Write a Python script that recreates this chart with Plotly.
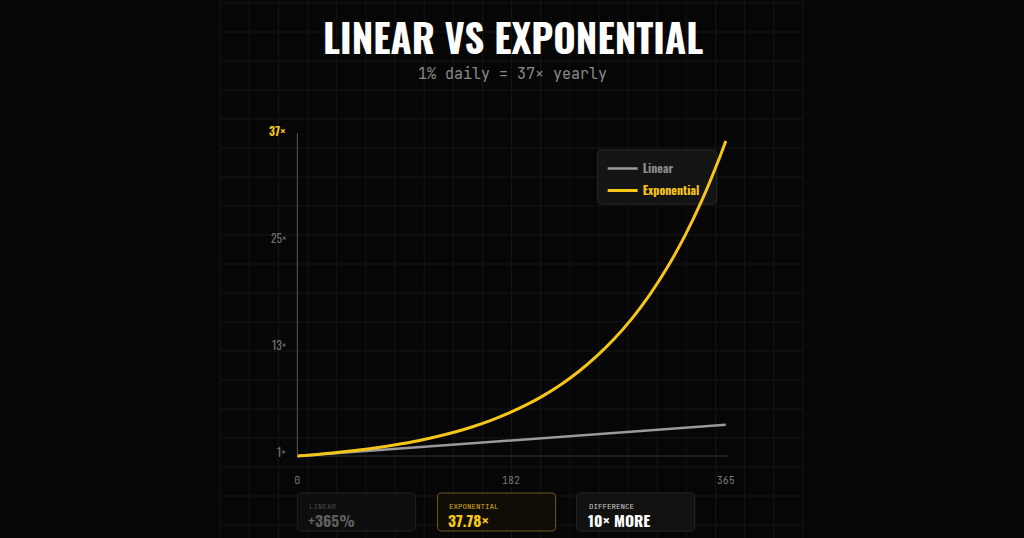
import plotly.graph_objects as go

W, H = 1024, 538

# ---------------- data ----------------
days_exp = [0, 15, 30, 45, 60, 75, 90, 105, 120, 135, 150, 165, 180, 195, 210,
            225, 240, 255, 270, 285, 300, 315, 330, 345, 360, 365]
exp_vals = [1.00, 1.16, 1.35, 1.57, 1.82, 2.11, 2.45, 2.84, 3.30, 3.83, 4.45, 5.16,
            6.00, 6.96, 8.08, 9.38, 10.89, 12.65, 14.68, 17.04, 19.79, 22.97, 26.67,
            30.96, 35.95, 37.78]
days_lin = [0, 365]
lin_vals = [1.00, 4.65]

x_tickvals = [0, 182, 365]
x_ticktext = ["0", "182", "365"]
y_label_text = ["1×", "13×", "25×", "37×"]

summary_labels = ["LINEAR", "EXPONENTIAL", "DIFFERENCE"]
summary_values = ["+365%", "37.78×", "10× MORE"]

title_text = "LINEAR VS EXPONENTIAL"
subtitle_text = "1% daily = 37× yearly"

# ---------------- style ----------------
BG = "#060606"
GRID = "#151515"
YELLOW = "#F5C518"
GRAY_LINE = "#9a9a9a"
COND = "Oswald, 'Liberation Sans Narrow', 'Arial Narrow', 'DejaVu Sans Condensed', sans-serif"
MONO = "'JetBrains Mono', 'DejaVu Sans Mono', 'Liberation Mono', monospace"

KX = 1.006  # small horizontal calibration


def fx(px):
    return px * KX / W


def fy(py):
    return 1 - py / H


# axis pixel mapping
X0_PX, X1_PX = 297, 725          # day 0 and day 365
Y1_PX, YTOP_PX = 456, 141        # value 1 and value 37.78
xppu = (X1_PX - X0_PX) / 365.0
yppu = (Y1_PX - YTOP_PX) / (37.78 - 1.0)
xr = [-3, 368]
yr = [0.4, 38.8]
xdom = [fx(X0_PX + xr[0] * xppu), fx(X0_PX + xr[1] * xppu)]
ydom = [fy(Y1_PX + (1 - yr[0]) * yppu), fy(Y1_PX - (yr[1] - 1) * yppu)]

fig = go.Figure()
fig.add_trace(go.Scatter(
    x=days_lin, y=lin_vals, mode="lines", name="Linear", legendgroup="lin",
    line=dict(color=GRAY_LINE, width=2.5),
))
fig.add_trace(go.Scatter(
    x=days_exp, y=exp_vals, mode="lines", legendgroup="exp",
    name="<span style='color:%s'>Exponential</span>" % YELLOW,
    line=dict(color=YELLOW, width=3, shape="spline", smoothing=0.6),
))

shapes = []
# background grid
gx0, gx1 = 220, 802
step = 29.1
for k in range(21):
    x = gx0 + k * step
    shapes.append(dict(type="line", xref="paper", yref="paper", x0=fx(x), x1=fx(x),
                       y0=0, y1=1, line=dict(color=GRID, width=1), layer="below"))
for k in range(19):
    y = 3 + k * 29
    shapes.append(dict(type="line", xref="paper", yref="paper", x0=fx(gx0), x1=fx(gx1),
                       y0=fy(y), y1=fy(y), line=dict(color=GRID, width=1), layer="below"))


def rrect(x0, y0, x1, y1, r):
    return ("M {a},{b} L {c},{b} Q {x1},{b} {x1},{d} L {x1},{e} Q {x1},{y1} {c},{y1} "
            "L {a},{y1} Q {x0},{y1} {x0},{e} L {x0},{d} Q {x0},{b} {a},{b} Z").format(
        a=fx(x0 + r), c=fx(x1 - r), b=fy(y0), d=fy(y0 + r), e=fy(y1 - r),
        x0=fx(x0), x1=fx(x1), y1=fy(y1))


# legend box
shapes.append(dict(type="path", xref="paper", yref="paper", path=rrect(597, 150, 716, 204, 4),
                   fillcolor="#141414", line=dict(color="#2a2a2a", width=1), layer="below"))

# axis lines
shapes.append(dict(type="line", xref="x", yref="y", x0=0, x1=0, y0=1, y1=38.7,
                   line=dict(color="#5a5a5a", width=1)))
shapes.append(dict(type="line", xref="x", yref="y", x0=0, x1=367, y0=1, y1=1,
                   line=dict(color="#333333", width=1), layer="below"))

# summary boxes
box_x = [297, 437, 576]
box_fill = ["#0e0e0e", "#0f0d06", "#111111"]
box_border = ["#202020", "#6e5a1c", "#262626"]
label_col = ["#4a4a4a", "#d9ad1e", "#cfcfcf"]
value_col = ["#5e5e5e", YELLOW, "#ffffff"]
annotations = []
for i in range(3):
    bx = box_x[i]
    shapes.append(dict(type="path", xref="paper", yref="paper", path=rrect(bx, 493, bx + 118, 531, 4),
                       fillcolor=box_fill[i], line=dict(color=box_border[i], width=1)))
    annotations.append(dict(x=fx(bx + 11), y=fy(505.5), xref="paper", yref="paper",
                            xanchor="left", yanchor="middle", showarrow=False, borderpad=0,
                            text=summary_labels[i], font=dict(family=MONO, size=7.5, color=label_col[i])))
    annotations.append(dict(x=fx(bx + 10), y=fy(520), xref="paper", yref="paper",
                            xanchor="left", yanchor="middle", showarrow=False, borderpad=0,
                            text="<b>%s</b>" % summary_values[i],
                            font=dict(family=COND, size=15.5, color=value_col[i])))

# y labels (evenly spaced along axis height)
ylab_py = [451, 344, 237, 130]
for i, t in enumerate(y_label_text):
    top = (i == len(y_label_text) - 1)
    annotations.append(dict(x=fx(288), y=fy(ylab_py[i]), xref="paper", yref="paper",
                            xanchor="right", yanchor="middle", showarrow=False,
                            text=("<b>%s</b>" % t) if top else t,
                            font=dict(family=COND, size=11.5, color=YELLOW if top else "#6f6f6f")))

# title & subtitle
annotations.append(dict(x=fx(512), y=fy(36.5), xref="paper", yref="paper", xanchor="center", yanchor="middle",
                        showarrow=False, text="<b>%s</b>" % title_text,
                        font=dict(family=COND, size=38.5, color="#ffffff")))
annotations.append(dict(x=fx(512), y=fy(74), xref="paper", yref="paper", xanchor="center", yanchor="middle",
                        showarrow=False, text=subtitle_text,
                        font=dict(family=MONO, size=15, color="#8a8a8a")))

fig.update_layout(
    width=W, height=H,
    margin=dict(l=0, r=0, t=0, b=0),
    paper_bgcolor=BG, plot_bgcolor="rgba(0,0,0,0)",
    showlegend=True,
    legend=dict(x=fx(602), y=fy(154), xanchor="left", yanchor="top",
                bgcolor="rgba(0,0,0,0)", borderwidth=0,
                font=dict(family=COND, size=12, color="#8a8a8a", weight="bold"),
                tracegroupgap=3, traceorder="grouped"),
    xaxis=dict(domain=xdom, range=xr, showgrid=False, zeroline=False, showline=False,
               tickvals=x_tickvals, ticktext=x_ticktext, ticks="",
               tickfont=dict(family=MONO, size=10, color="#777777"), ticklabelstandoff=12,
               fixedrange=True),
    yaxis=dict(domain=ydom, range=yr, showgrid=False, zeroline=False, showline=False,
               showticklabels=False, ticks="", fixedrange=True),
    shapes=shapes,
    annotations=annotations,
)

fig.write_html("out.html")
